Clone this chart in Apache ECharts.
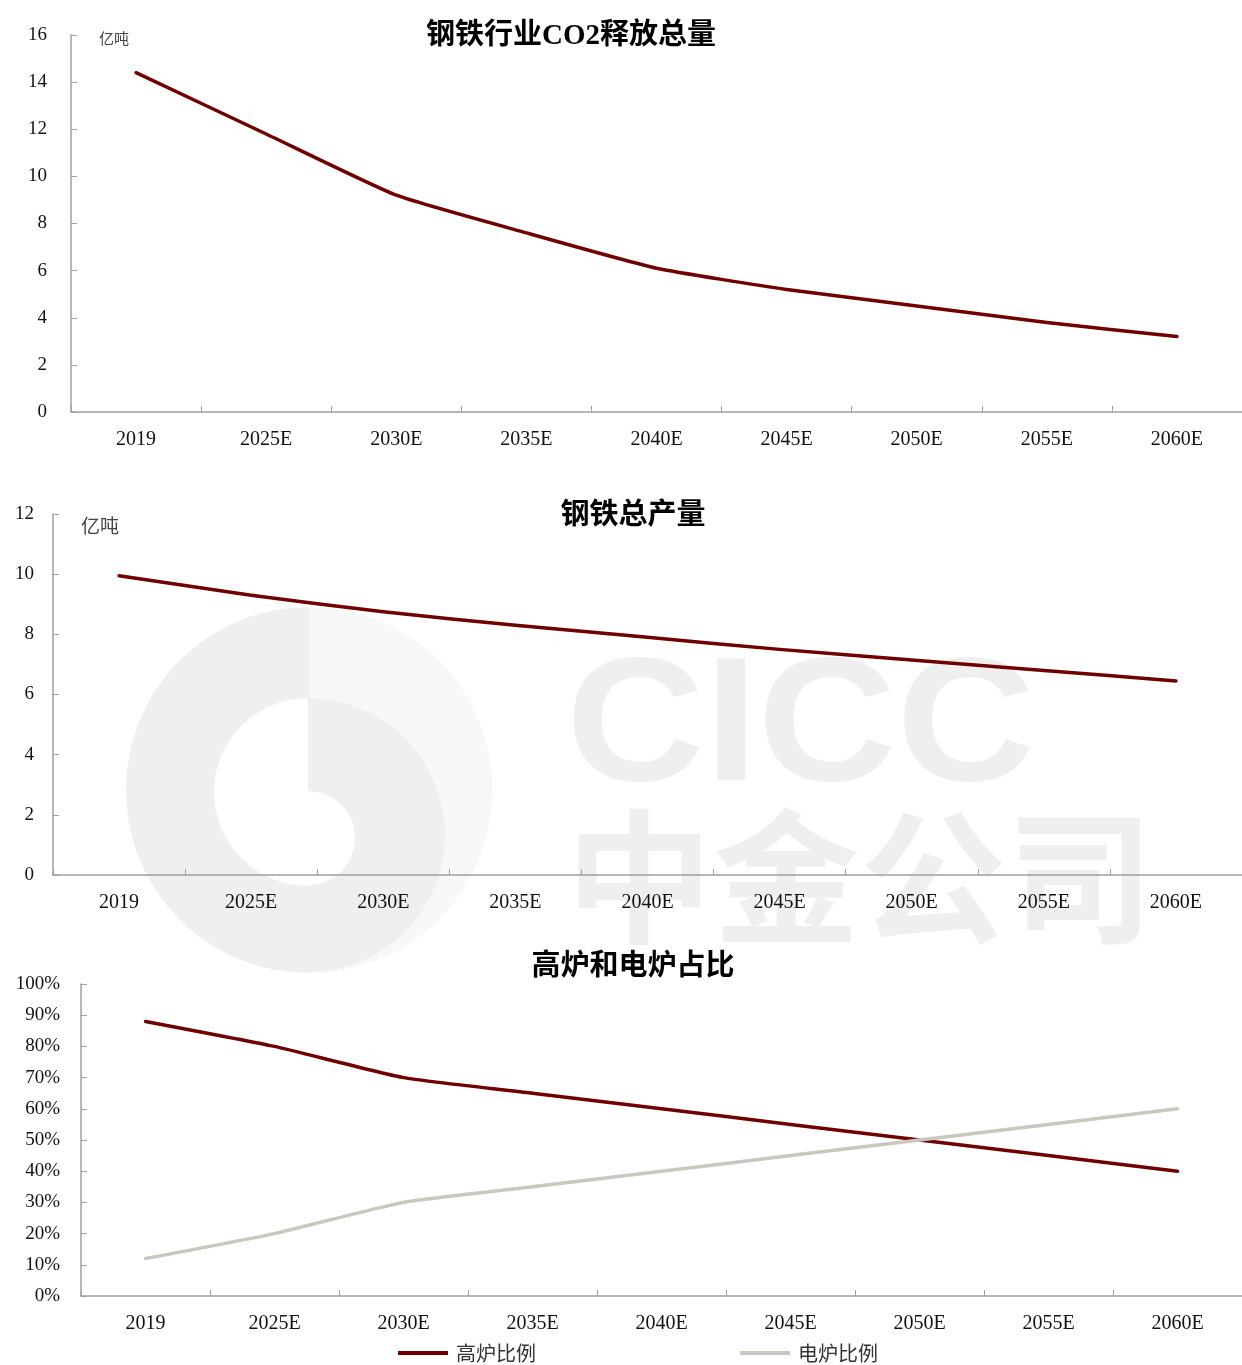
<!DOCTYPE html>
<html>
<head>
<meta charset="utf-8">
<script src="https://cdn.jsdelivr.net/npm/echarts@6/dist/echarts.min.js"></script>
<style>
  html, body { margin: 0; padding: 0; background: #fff; }
  #chart { width: 1242px; height: 1365px; }
</style>
</head>
<body>
<div id="chart"></div>
<script>
// 横轴
const years = ['2019', '2025E', '2030E', '2035E', '2040E', '2045E', '2050E', '2055E', '2060E']
// 钢铁行业CO2释放总量（亿吨）
const co2Total = [14.4, 11.8, 9.2, 7.6, 6.1, 5.2, 4.5, 3.8, 3.2]
// 钢铁总产量（亿吨）
const steelOutput = [9.95, 9.3, 8.75, 8.3, 7.9, 7.5, 7.15, 6.8, 6.45]
// 高炉和电炉占比（%）
const blastShare = [88, 80, 70, 65, 60, 55, 50, 45, 40]
const electricShare = [12, 20, 30, 35, 40, 45, 50, 55, 60]

const RED = '#700000'
const GREY = '#C8C8BE'
const AXIS = '#A0A0A0'
const SERIF = 'Liberation Serif'
const CJK = 'Noto Sans CJK SC'

const chart = echarts.init(document.getElementById('chart'))

// 通用横轴
function xAxisOf (gridIndex) {
  return {
    gridIndex: gridIndex,
    type: 'category',
    data: years,
    boundaryGap: true,
    axisLine: { show: true, lineStyle: { color: AXIS, width: 1.5 } },
    axisTick: { show: true, inside: true, length: 6, lineStyle: { color: AXIS } },
    axisLabel: { color: '#111', fontSize: 20, fontFamily: SERIF, margin: 18 },
    splitLine: { show: false }
  }
}

// 通用纵轴
function yAxisOf (gridIndex, max, interval, margin, fmt) {
  return {
    gridIndex: gridIndex,
    type: 'value',
    min: 0,
    max: max,
    interval: interval,
    axisLine: { show: true, lineStyle: { color: AXIS, width: 1.5 } },
    axisTick: { show: true, inside: true, length: 6, lineStyle: { color: AXIS } },
    axisLabel: { color: '#111', fontSize: 19, fontFamily: SERIF, margin: margin, formatter: fmt },
    splitLine: { show: false }
  }
}

function lineOf (name, data, idx, color) {
  return {
    name: name,
    type: 'line',
    xAxisIndex: idx,
    yAxisIndex: idx,
    data: data,
    symbol: 'none',
    smooth: 0.15,
    z: 5,
    lineStyle: { color: color, width: 3.5, cap: 'round', join: 'round' },
    itemStyle: { color: color }
  }
}

const titleStyle = { color: '#000', fontSize: 29, fontWeight: 'bold', fontFamily: SERIF + ', ' + CJK }

// 背景水印
const wm = '#efefef'
const watermark = [
  { type: 'circle', shape: { cx: 309, cy: 790, r: 183 }, style: { fill: wm }, z: -10, silent: true },
  { type: 'sector', shape: { cx: 309, cy: 790, r0: 0, r: 183, startAngle: -Math.PI / 2, endAngle: Math.PI / 2 }, style: { fill: '#f8f8f8' }, z: -9, silent: true },
  { type: 'sector', shape: { cx: 308, cy: 835, r0: 0, r: 137, startAngle: -Math.PI / 2, endAngle: Math.PI / 2 }, style: { fill: wm }, z: -8, silent: true },
  { type: 'sector', shape: { cx: 308, cy: 792, r0: 0, r: 94, startAngle: Math.PI / 2, endAngle: Math.PI * 1.5 }, style: { fill: '#fff' }, z: -7, silent: true },
  { type: 'circle', shape: { cx: 308, cy: 838, r: 47 }, style: { fill: '#fff' }, z: -7, silent: true },
  { type: 'text', x: 566, y: 643, scaleX: 1.09, z: -10, silent: true, style: { text: 'CICC', fill: wm, font: 'bold 176px "Liberation Sans"' } },
  { type: 'text', x: 566, y: 805, scaleX: 1.02, z: -10, silent: true, style: { text: '中金公司', fill: wm, font: 'bold 144px "Noto Sans CJK SC"' } }
]

chart.setOption({
  animation: false,
  backgroundColor: '#fff',
  title: [
    { text: '钢铁行业CO2释放总量', left: 566, top: 17, textAlign: 'center', textStyle: titleStyle },
    { text: '钢铁总产量', left: 628, top: 497, textAlign: 'center', textStyle: titleStyle },
    { text: '高炉和电炉占比', left: 628, top: 948, textAlign: 'center', textStyle: titleStyle }
  ],
  legend: {
    left: 393,
    top: 1338,
    icon: 'rect',
    itemWidth: 50,
    itemHeight: 4,
    itemGap: 204,
    textStyle: { color: '#333', fontSize: 20, fontFamily: CJK, padding: [0, 0, 0, 3] },
    data: ['高炉比例', '电炉比例']
  },
  grid: [
    { left: 71, top: 35, width: 1171, height: 377, containLabel: false },
    { left: 53, top: 514, width: 1189, height: 361, containLabel: false },
    { left: 81, top: 984, width: 1161, height: 312, containLabel: false }
  ],
  xAxis: [xAxisOf(0), xAxisOf(1), xAxisOf(2)],
  yAxis: [
    yAxisOf(0, 16, 2, 24),
    yAxisOf(1, 12, 2, 19),
    yAxisOf(2, 100, 10, 21, '{value}%')
  ],
  graphic: watermark.concat([
    { type: 'text', left: 99, top: 31, style: { text: '亿吨', fill: '#444', font: '15px "Noto Sans CJK SC"' } },
    { type: 'text', left: 81, top: 516, style: { text: '亿吨', fill: '#444', font: '19px "Noto Sans CJK SC"' } }
  ]),
  series: [
    lineOf('CO2释放总量', co2Total, 0, RED),
    lineOf('钢铁总产量', steelOutput, 1, RED),
    lineOf('高炉比例', blastShare, 2, RED),
    lineOf('电炉比例', electricShare, 2, GREY)
  ]
})
</script>
</body>
</html>
